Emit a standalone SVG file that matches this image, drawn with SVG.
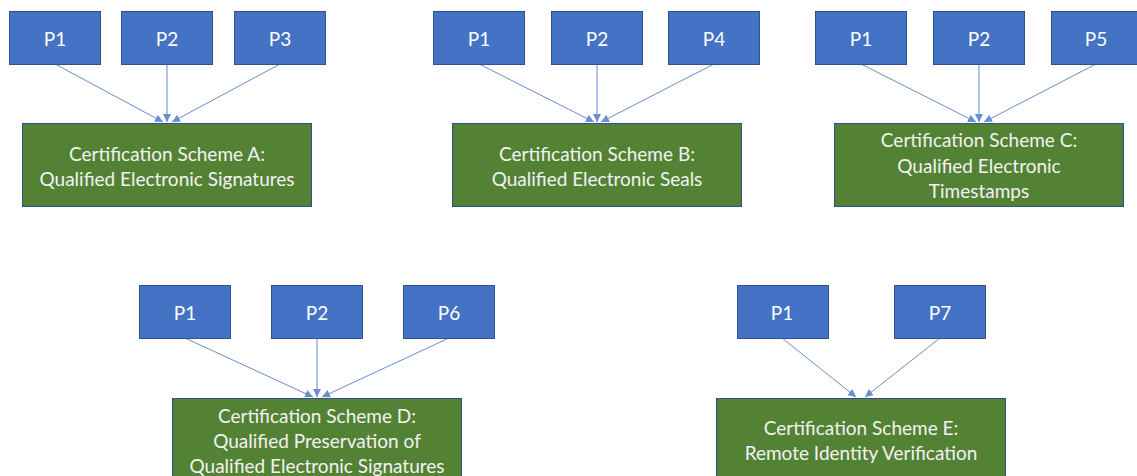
<svg xmlns="http://www.w3.org/2000/svg" width="1137" height="476" viewBox="0 0 1137 476">
<style>
.p rect{fill:#4472C4;stroke:#2F528F;stroke-width:1}
.s rect{fill:#548235;stroke:#2F528F;stroke-width:1}
text{font-family:Lato,"Liberation Sans",sans-serif;font-size:19px;fill:#F2F2F2;text-anchor:middle;dominant-baseline:central}
.p text{fill:#FFFFFF}
#connectors line{stroke:#4472C4;stroke-width:1;opacity:0.8}
</style>
<defs>
<marker id="ah" viewBox="0 0 10 10" refX="10" refY="5" markerWidth="8" markerHeight="8" markerUnits="userSpaceOnUse" orient="auto">
<path d="M0,0 L10,5 L0,10 z" fill="#4472C4"/>
</marker>
</defs>
<rect width="1137" height="476" fill="#FFFFFF"/>
<g id="connectors">
<line x1="55" y1="64" x2="163" y2="122" marker-end="url(#ah)"/>
<line x1="167" y1="64" x2="167" y2="122" marker-end="url(#ah)"/>
<line x1="280" y1="64" x2="172" y2="122" marker-end="url(#ah)"/>
<line x1="479" y1="64" x2="594" y2="122" marker-end="url(#ah)"/>
<line x1="597" y1="64" x2="597" y2="122" marker-end="url(#ah)"/>
<line x1="714" y1="64" x2="601" y2="122" marker-end="url(#ah)"/>
<line x1="861" y1="64" x2="976" y2="122" marker-end="url(#ah)"/>
<line x1="979" y1="64" x2="979" y2="122" marker-end="url(#ah)"/>
<line x1="1096" y1="64" x2="984" y2="122" marker-end="url(#ah)"/>
<line x1="185" y1="338" x2="313" y2="397" marker-end="url(#ah)"/>
<line x1="317" y1="338" x2="317" y2="397" marker-end="url(#ah)"/>
<line x1="449" y1="338" x2="322" y2="397" marker-end="url(#ah)"/>
<line x1="782" y1="338" x2="856" y2="397" marker-end="url(#ah)"/>
<line x1="940" y1="338" x2="865" y2="397" marker-end="url(#ah)"/>
</g>
<g id="a-p1" class="p"><rect x="9.5" y="11.5" width="91" height="53"/><text x="55" y="38">P1</text></g>
<g id="a-p2" class="p"><rect x="121.5" y="11.5" width="91" height="53"/><text x="167" y="38">P2</text></g>
<g id="a-p3" class="p"><rect x="234.5" y="11.5" width="91" height="53"/><text x="280" y="38">P3</text></g>
<g id="scheme-a" class="s"><rect x="22.5" y="123.5" width="289" height="83"/><text x="167" y="153">Certification Scheme A:</text><text x="167" y="178">Qualified Electronic Signatures</text></g>
<g id="b-p1" class="p"><rect x="433.5" y="11.5" width="91" height="53"/><text x="479" y="38">P1</text></g>
<g id="b-p2" class="p"><rect x="551.5" y="11.5" width="91" height="53"/><text x="597" y="38">P2</text></g>
<g id="b-p4" class="p"><rect x="668.5" y="11.5" width="91" height="53"/><text x="714" y="38">P4</text></g>
<g id="scheme-b" class="s"><rect x="452.5" y="123.5" width="289" height="83"/><text x="597" y="153">Certification Scheme B:</text><text x="597" y="178">Qualified Electronic Seals</text></g>
<g id="c-p1" class="p"><rect x="815.5" y="11.5" width="91" height="53"/><text x="861" y="38">P1</text></g>
<g id="c-p2" class="p"><rect x="933.5" y="11.5" width="91" height="53"/><text x="979" y="38">P2</text></g>
<g id="c-p5" class="p"><rect x="1051.5" y="11.5" width="91" height="53"/><text x="1096" y="38">P5</text></g>
<g id="scheme-c" class="s"><rect x="834.5" y="123.5" width="289" height="83"/><text x="979" y="139">Certification Scheme C:</text><text x="979" y="165">Qualified Electronic</text><text x="979" y="190">Timestamps</text></g>
<g id="d-p1" class="p"><rect x="139.5" y="285.5" width="91" height="53"/><text x="185" y="312">P1</text></g>
<g id="d-p2" class="p"><rect x="271.5" y="285.5" width="91" height="53"/><text x="317" y="312">P2</text></g>
<g id="d-p6" class="p"><rect x="403.5" y="285.5" width="91" height="53"/><text x="449" y="312">P6</text></g>
<g id="scheme-d" class="s"><rect x="172.5" y="398.5" width="289" height="83"/><text x="317" y="415">Certification Scheme D:</text><text x="317" y="440">Qualified Preservation of</text><text x="317" y="465">Qualified Electronic Signatures</text></g>
<g id="e-p1" class="p"><rect x="737.5" y="285.5" width="91" height="53"/><text x="782" y="312">P1</text></g>
<g id="e-p7" class="p"><rect x="894.5" y="285.5" width="91" height="53"/><text x="940" y="312">P7</text></g>
<g id="scheme-e" class="s"><rect x="716.5" y="398.5" width="289" height="83"/><text x="861" y="427">Certification Scheme E:</text><text x="861" y="452">Remote Identity Verification</text></g>
</svg>
